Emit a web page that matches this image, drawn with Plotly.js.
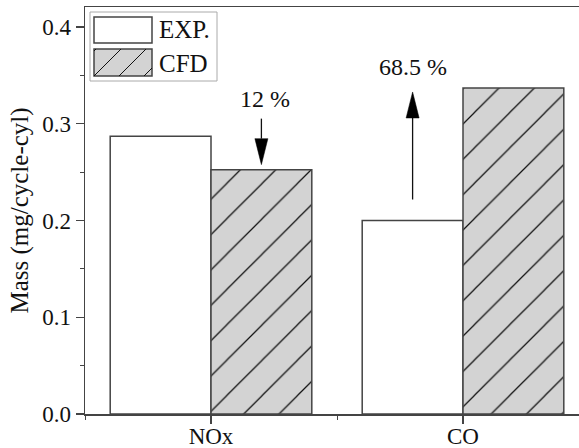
<!DOCTYPE html>
<html>
<head>
<meta charset="utf-8">
<script src="https://cdn.plot.ly/plotly-3.0.1.min.js"></script>
<style>
  html, body { margin: 0; padding: 0; background: #fff; }
  #chart { width: 579px; height: 448px; }
</style>
</head>
<body>
<div id="chart"></div>
<script>
// Emission masses per pollutant, measured vs simulated
const categories = ['NOx', 'CO'];
const expValues = [0.287, 0.200];
const cfdValues = [0.2526, 0.337];
const seriesNames = ['EXP.', 'CFD'];
const changeLabels = ['12 %', '68.5 %'];
const yTickVals = [0, 0.1, 0.2, 0.3, 0.4];
const yTickText = ['0.0', '0.1', '0.2', '0.3', '0.4'];

const FONT = 'Liberation Serif, Times New Roman, serif';
const AXIS_COLOR = '#444';
const HATCH_BG = '#d3d3d3';

// Plot frame in pixels
const W = 579, H = 448;
const M = { l: 85, r: 0, t: 7, b: 34 };
const plotW = W - M.l - M.r;
const plotH = H - M.t - M.b;
const yRange = [0, 0.4207];
const xRange = [-0.5, -0.5 + plotW / 252];
const bargap = 0.2;
const barW = (1 - bargap) / 2;
const xIdx = categories.map((_, i) => i);

// pixel distance -> data units on y
const dy = px => px * (yRange[1] - yRange[0]) / plotH;
// pixel position -> paper coordinates
const paperX = px => (px - M.l) / plotW;
const paperY = py => (H - M.b - py) / plotH;

const traces = [
  {
    type: 'bar', name: seriesNames[0], x: xIdx, y: expValues,
    marker: { color: '#ffffff', line: { color: AXIS_COLOR, width: 1.5 } },
    showlegend: false, hoverinfo: 'skip'
  },
  {
    type: 'bar', name: seriesNames[1], x: xIdx, y: cfdValues,
    marker: {
      color: HATCH_BG,
      line: { color: AXIS_COLOR, width: 1.5 },
      pattern: { shape: '/', size: 25, solidity: 0.05, fgcolor: '#111', bgcolor: HATCH_BG, fillmode: 'replace' }
    },
    showlegend: false, hoverinfo: 'skip'
  }
];

const shapes = [];
const annotations = [];

// Arrow: vertical line plus a filled narrow head, x in pixels around a bar center
function arrow(xc, yTail, yTip, up) {
  const headLen = dy(26);
  const yBase = up ? yTip - headLen : yTip + headLen;
  shapes.push({
    type: 'line', xref: 'x', yref: 'y', x0: xc, x1: xc, y0: yTail, y1: yBase,
    line: { color: '#111', width: 1.3 }
  });
  shapes.push({
    type: 'path', xref: 'x', yref: 'y', xsizemode: 'pixel', xanchor: xc,
    path: `M-6.5,${yBase} L6.5,${yBase} L0,${yTip} Z`,
    fillcolor: '#000', line: { color: '#000', width: 0.5 }
  });
}

// NOx: decrease from measured to simulated, arrow above the CFD bar
const noxX = xIdx[0] + barW / 2;
arrow(noxX, cfdValues[0] + dy(51), cfdValues[0] + dy(5), false);
annotations.push({
  x: noxX, y: cfdValues[0], xref: 'x', yref: 'y', xshift: 4, yshift: 71,
  text: changeLabels[0], showarrow: false, xanchor: 'center', yanchor: 'middle',
  font: { family: FONT, size: 24, color: '#111' }
});

// CO: increase, arrow above the EXP bar
const coX = xIdx[1] - barW / 2;
arrow(coX, expValues[1] + dy(21), cfdValues[1] - dy(4), true);
annotations.push({
  x: coX, y: cfdValues[1], xref: 'x', yref: 'y', yshift: 21,
  text: changeLabels[1], showarrow: false, xanchor: 'center', yanchor: 'middle',
  font: { family: FONT, size: 24, color: '#111' }
});

// Legend box with large swatches
shapes.push({
  type: 'rect', xref: 'paper', yref: 'paper',
  x0: paperX(90), x1: paperX(217), y0: paperY(81), y1: paperY(12),
  line: { color: '#aaa', width: 1 }, fillcolor: 'rgba(255,255,255,0)'
});
const sw = { x0: 94, x1: 152 };
const rows = [{ top: 17, bot: 43, ty: 30 }, { top: 49, bot: 76, ty: 63 }];
rows.forEach((r, i) => {
  shapes.push({
    type: 'rect', xref: 'paper', yref: 'paper',
    x0: paperX(sw.x0), x1: paperX(sw.x1), y0: paperY(r.bot), y1: paperY(r.top),
    fillcolor: i === 0 ? '#ffffff' : HATCH_BG, line: { color: AXIS_COLOR, width: 1.5 }
  });
  if (i === 1) {
    // diagonal hatch lines clipped to the swatch
    const cStart = sw.x0 + r.bot;
    for (let c = cStart - 25; c <= sw.x1 + r.bot; c += 25) {
      const xa = Math.max(sw.x0, c - r.bot);
      const xb = Math.min(sw.x1, c - r.top);
      if (xb - xa < 1) continue;
      shapes.push({
        type: 'line', xref: 'paper', yref: 'paper',
        x0: paperX(xa), y0: paperY(c - xa), x1: paperX(xb), y1: paperY(c - xb),
        line: { color: '#111', width: 1 }
      });
    }
  }
  annotations.push({
    xref: 'paper', yref: 'paper', x: paperX(157), y: paperY(r.ty),
    xanchor: 'left', yanchor: 'middle', showarrow: false, text: seriesNames[i],
    font: { family: FONT, size: 25, color: '#111' }
  });
});

const layout = {
  width: W, height: H,
  margin: M,
  paper_bgcolor: '#fff', plot_bgcolor: '#fff',
  barmode: 'group', bargap: bargap, bargroupgap: 0,
  showlegend: false,
  font: { family: FONT, size: 23, color: '#111' },
  xaxis: {
    range: xRange, tickmode: 'array', tickvals: xIdx, ticktext: categories,
    showline: true, linecolor: AXIS_COLOR, linewidth: 1.5, mirror: true,
    ticks: 'outside', ticklen: 8, tickwidth: 1.2, tickcolor: AXIS_COLOR,
    ticklabelstandoff: -7,
    minor: { tick0: 0.5, dtick: 1, ticks: 'outside', ticklen: 4, tickcolor: AXIS_COLOR, tickwidth: 1 },
    showgrid: false, zeroline: false, fixedrange: true,
    tickfont: { family: FONT, size: 23, color: '#111' }
  },
  yaxis: {
    range: yRange, tickmode: 'array', tickvals: yTickVals, ticktext: yTickText,
    showline: true, linecolor: AXIS_COLOR, linewidth: 1.5,
    ticks: 'outside', ticklen: 8, tickwidth: 1.2, tickcolor: AXIS_COLOR,
    minor: { tick0: 0, dtick: 0.05, ticks: 'outside', ticklen: 4, tickcolor: AXIS_COLOR, tickwidth: 1 },
    showgrid: false, zeroline: false, fixedrange: true,
    tickfont: { family: FONT, size: 23, color: '#111' },
    title: { text: 'Mass (mg/cycle-cyl)', font: { family: FONT, size: 25, color: '#111' }, standoff: 6 }
  },
  shapes: shapes,
  annotations: annotations
};

Plotly.newPlot('chart', traces, layout, { staticPlot: true, displayModeBar: false });
</script>
</body>
</html>
